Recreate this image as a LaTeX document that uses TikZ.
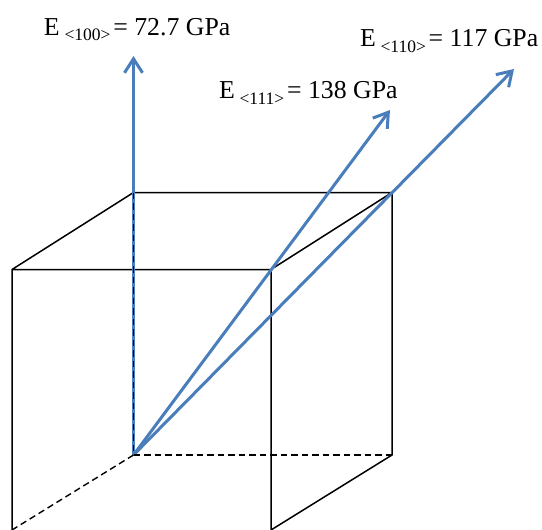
\documentclass[tikz,border=0pt]{standalone}
\usepackage{fontspec}
\setmainfont{Liberation Serif}
\usetikzlibrary{arrows.meta}
\definecolor{arrowblue}{HTML}{4A7EBB}
\newcommand{\modlabel}[2]{E\kern4.8pt{\fontsize{17.5}{18}\selectfont\raisebox{-5.6pt}{<#1>}}\kern2.8pt= #2 GPa}
\tikzset{
  edge/.style={black,line width=1.5pt},
  hidden/.style={black,line width=1.4pt,dash pattern=on 6.5pt off 4pt},
  dirarrow/.style={arrowblue,line width=3pt,-{Straight Barb[length=14pt,width=18pt,line width=3pt]}},
  modulus/.style={anchor=base west,inner sep=0pt,outer sep=0pt,font=\fontsize{25.8}{26}\selectfont}
}
\begin{document}
\begin{tikzpicture}[x=1pt,y=-1pt]
\useasboundingbox (0,0) rectangle (542,530);
\coordinate (ftl) at (12,269.5);
\coordinate (ftr) at (271,269.5);
\coordinate (fbl) at (12,530);
\coordinate (fbr) at (271,530);
\coordinate (btl) at (133.5,192.5);
\coordinate (btr) at (392,192.5);
\coordinate (bbl) at (133.5,455);
\coordinate (bbr) at (392,455);
\coordinate (t100) at (133.5,56);
\coordinate (t111) at (390,110);
\coordinate (t110) at (514,69);
\draw[edge] (ftl) -- (ftr) -- (fbr) (fbl) -- (ftl) -- (btl) -- (btr) -- (bbr) -- (fbr) (ftr) -- (btr);
\draw[dirarrow] (bbl) -- (t100);
\draw[dirarrow] (bbl) -- (t111);
\draw[dirarrow] (bbl) -- (t110);
\draw[hidden] (btl) -- (bbl);
\draw[hidden] (bbl) -- (bbr);
\draw[hidden] (bbl) -- (fbl);
\node[modulus] (l100) at (44,35) {\modlabel{100}{72.7}};
\node[modulus] (l111) at (219,99) {\modlabel{111}{138}};
\node[modulus] (l110) at (360,46.7) {\modlabel{110}{117}};
\end{tikzpicture}
\end{document}
